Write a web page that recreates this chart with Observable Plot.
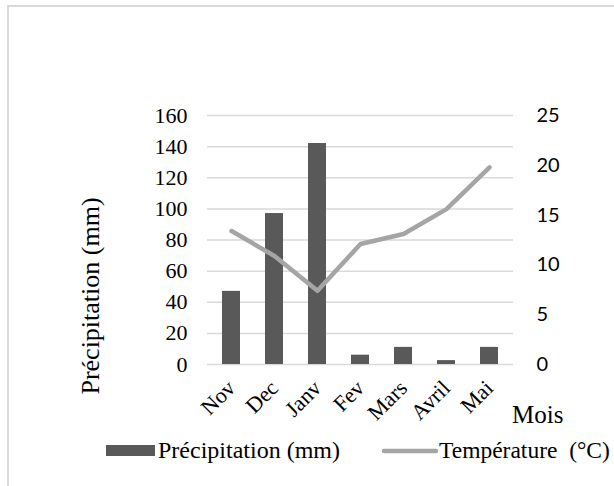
<!DOCTYPE html>
<html>
<head>
<meta charset="utf-8">
<script src="https://cdn.jsdelivr.net/npm/d3@7"></script>
<script src="https://cdn.jsdelivr.net/npm/@observablehq/plot@0.6"></script>
<style>
  html, body { margin: 0; padding: 0; background: #fff; }
  #wrap { position: relative; width: 614px; height: 486px; overflow: hidden; }
  #wrap > svg { position: absolute; left: 0; top: 0; }
  #border { position: absolute; left: 7px; top: 5px; width: 640px; height: 520px; border: 2px solid #D9D9D9; box-sizing: border-box; }
</style>
</head>
<body>
<div id="wrap"><div id="border"></div></div>
<script>
const months = ["Nov", "Dec", "Janv", "Fev", "Mars", "Avril", "Mai"];
const precipitation = [47, 97, 142, 6, 11, 2.5, 11];
const temperature = [13.4, 10.9, 7.4, 12.1, 13.1, 15.6, 19.8];
const precipTicks = [0, 20, 40, 60, 80, 100, 120, 140, 160];
const tempTicks = [0, 5, 10, 15, 20, 25];
const yTitle = "Précipitation (mm)";
const xTitle = "Mois";
const legendPrecip = "Précipitation (mm)";
const legendTemp = "Température  (°C)";

const k = 160 / 25; // temperature -> precipitation scale
const data = months.map((m, i) => ({month: m, precip: precipitation[i], temp: temperature[i]}));

const serif = "Liberation Serif";
const sans = "Lato";

const chart = Plot.plot({
  width: 614,
  height: 486,
  marginLeft: 207,
  marginRight: 101,
  marginTop: 115,
  marginBottom: 122,
  style: {background: "transparent", overflow: "visible"},
  x: {domain: months, paddingInner: 0.59, paddingOuter: 0.295, axis: null},
  y: {domain: [0, 160], axis: null},
  marks: [
    Plot.gridY(precipTicks, {stroke: "#D9D9D9", strokeOpacity: 1, strokeWidth: 1.5}),
    Plot.text(precipTicks, {y: d => d, text: d => String(d), frameAnchor: "left", textAnchor: "end", dx: -20, fontSize: 22, fontFamily: serif, fill: "#000"}),
    Plot.text(tempTicks, {y: d => d * k, text: d => String(d), frameAnchor: "right", textAnchor: "start", dx: 23, fontSize: 20, fontFamily: sans, fill: "#000"}),
    Plot.barY(data, {x: "month", y: "precip", fill: "#595959"}),
    Plot.line(data, {x: "month", y: d => d.temp * k, stroke: "#A5A5A5", strokeWidth: 4.5, strokeLinejoin: "round", strokeLinecap: "round"}),
    Plot.text(data, {x: "month", text: "month", frameAnchor: "bottom", rotate: -45, textAnchor: "end", dx: 5, dy: 25, fontSize: 22, fontFamily: serif, fill: "#000"})
  ]
});
document.getElementById("wrap").appendChild(chart);

// Overlay for titles and legend (non-data text)
const ns = "http://www.w3.org/2000/svg";
const ov = document.createElementNS(ns, "svg");
ov.setAttribute("width", 614);
ov.setAttribute("height", 486);
ov.style.position = "absolute"; ov.style.left = "0"; ov.style.top = "0";
function txt(s, x, y, size, opts = {}) {
  const t = document.createElementNS(ns, "text");
  t.textContent = s;
  t.setAttribute("x", x); t.setAttribute("y", y);
  t.setAttribute("font-family", opts.family || serif);
  t.setAttribute("font-size", size);
  t.setAttribute("fill", "#000");
  t.style.whiteSpace = "pre";
  if (opts.anchor) t.setAttribute("text-anchor", opts.anchor);
  if (opts.transform) t.setAttribute("transform", opts.transform);
  ov.appendChild(t);
  return t;
}
txt(yTitle, 0, 0, 26, {anchor: "middle", transform: "translate(99,296) rotate(-90)"});
txt(xTitle, 512, 423, 25);
const r = document.createElementNS(ns, "rect");
r.setAttribute("x", 106); r.setAttribute("y", 445); r.setAttribute("width", 49); r.setAttribute("height", 11);
r.setAttribute("fill", "#595959");
ov.appendChild(r);
txt(legendPrecip, 158, 458, 24);
const l = document.createElementNS(ns, "line");
l.setAttribute("x1", 384); l.setAttribute("x2", 436); l.setAttribute("y1", 451); l.setAttribute("y2", 451);
l.setAttribute("stroke", "#A5A5A5"); l.setAttribute("stroke-width", 4.5); l.setAttribute("stroke-linecap", "round");
ov.appendChild(l);
txt(legendTemp, 439, 458, 23.5);
document.getElementById("wrap").appendChild(ov);
</script>
</body>
</html>
